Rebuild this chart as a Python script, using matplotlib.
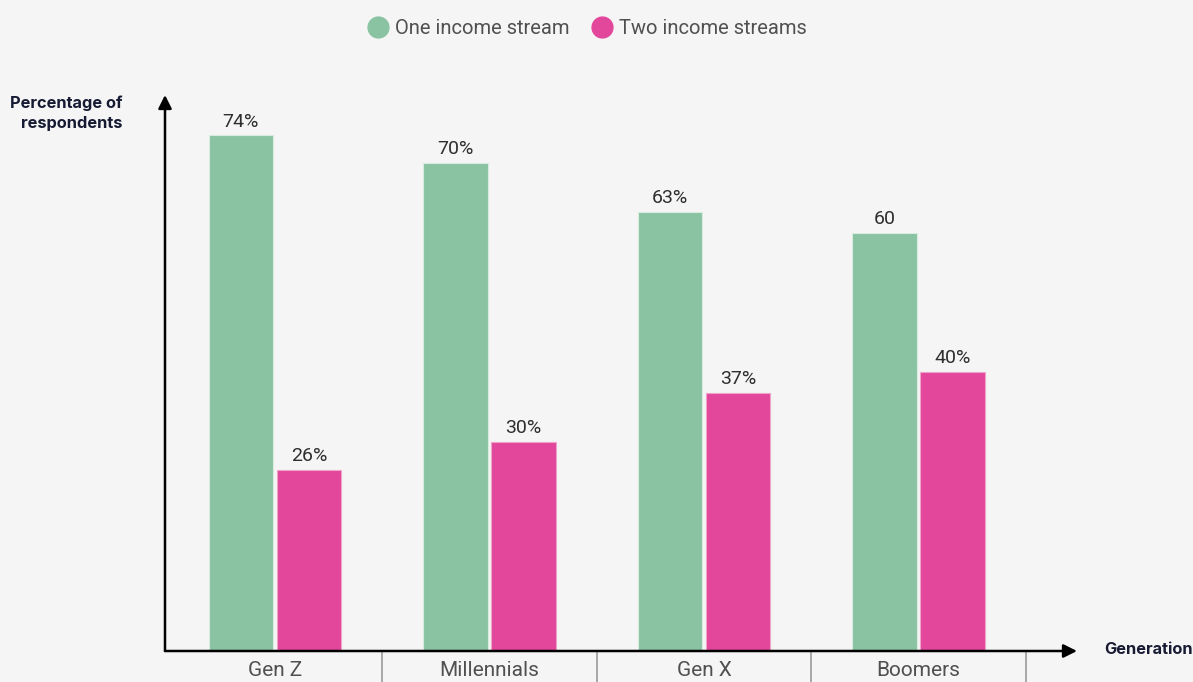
import matplotlib
matplotlib.use("Agg")
import matplotlib.pyplot as plt
import matplotlib.transforms as mtransforms
from matplotlib.lines import Line2D
import numpy as np

generations = ["Gen Z", "Millennials", "Gen X", "Boomers"]
one_stream = [74, 70, 63, 60]
two_streams = [26, 30, 37, 40]
one_labels = ["74%", "70%", "63%", "60"]
two_labels = ["26%", "30%", "37%", "40%"]
series_names = ["One income stream", "Two income streams"]

GREEN = "#89C3A2"
PINK = "#E2479B"
BG = "#F5F5F5"
TEXT_GRAY = "#505050"
NAVY = "#161b33"

plt.rcParams["font.family"] = ["Roboto", "DejaVu Sans"]

fig = plt.figure(figsize=(11.93, 6.82), dpi=100, facecolor=BG)
ax = fig.add_axes([165 / 1193, 31 / 682, 912 / 1193, 556 / 682])
ax.set_facecolor(BG)

x = np.arange(len(generations))
width = 0.30
offset = 0.159

ax.bar(x - offset, one_stream, width, color=GREEN, edgecolor="#d7ebdf", linewidth=0.8, zorder=2)
ax.bar(x + offset, two_streams, width, color=PINK, edgecolor="#f0a3c8", linewidth=0.8, zorder=2)

for xi, v, lab in zip(x - offset, one_stream, one_labels):
    ax.annotate(lab, (xi, v), xytext=(0, 3.5), textcoords="offset points",
                ha="center", va="bottom", fontsize=14, color="#2e2e2e")
for xi, v, lab in zip(x + offset, two_streams, two_labels):
    ax.annotate(lab, (xi, v), xytext=(0, 3.5), textcoords="offset points",
                ha="center", va="bottom", fontsize=14, color="#2e2e2e")

ax.set_xlim(-0.513, 3.739)
ax.set_ylim(0, 79.8)

for s in ax.spines.values():
    s.set_visible(False)
ax.set_yticks([])
ax.set_xticks(x)
ax.set_xticklabels(generations, fontsize=15, color=TEXT_GRAY)
ax.tick_params(axis="x", length=0, pad=7)

# category dividers below the baseline
trans = mtransforms.blended_transform_factory(ax.transData, ax.transAxes)
for b in np.arange(len(generations)) + 0.5:
    ax.add_line(Line2D([b, b], [0, -0.06], transform=trans, color="#9a9a9a",
                       lw=1.2, clip_on=False, zorder=1))

# axes with arrowheads
arrow = dict(arrowstyle="-|>", color="black", lw=1.8, mutation_scale=20,
             shrinkA=0, shrinkB=0)
ax.annotate("", xy=(0, 1), xytext=(0, 0), xycoords="axes fraction",
            textcoords="axes fraction", arrowprops=arrow, zorder=5)
ax.annotate("", xy=(1, 0), xytext=(0, 0), xycoords="axes fraction",
            textcoords="axes fraction", arrowprops=arrow, zorder=5)

fig.text(122 / 1193, 1 - 113 / 682, "Percentage of\nrespondents", ha="right", va="center",
         fontsize=11.8, fontweight="bold", color=NAVY, family=["Inter", "DejaVu Sans"],
         linespacing=1.4)
fig.text(1104 / 1193, 1 - 650 / 682, "Generation", ha="left", va="center",
         fontsize=11.8, fontweight="bold", color=NAVY, family=["Inter", "DejaVu Sans"])

handles = [Line2D([], [], marker="o", linestyle="", markersize=15, markerfacecolor=GREEN,
                  markeredgecolor=GREEN),
           Line2D([], [], marker="o", linestyle="", markersize=15, markerfacecolor=PINK,
                  markeredgecolor=PINK)]
leg = fig.legend(handles, series_names, loc="center", bbox_to_anchor=(586 / 1193, 1 - 29 / 682),
                 ncol=2, frameon=False, fontsize=14.5, handletextpad=0.25, columnspacing=1.0,
                 handlelength=1.2)
for t in leg.get_texts():
    t.set_color(TEXT_GRAY)

fig.savefig("out.png", dpi=100, facecolor=BG)
